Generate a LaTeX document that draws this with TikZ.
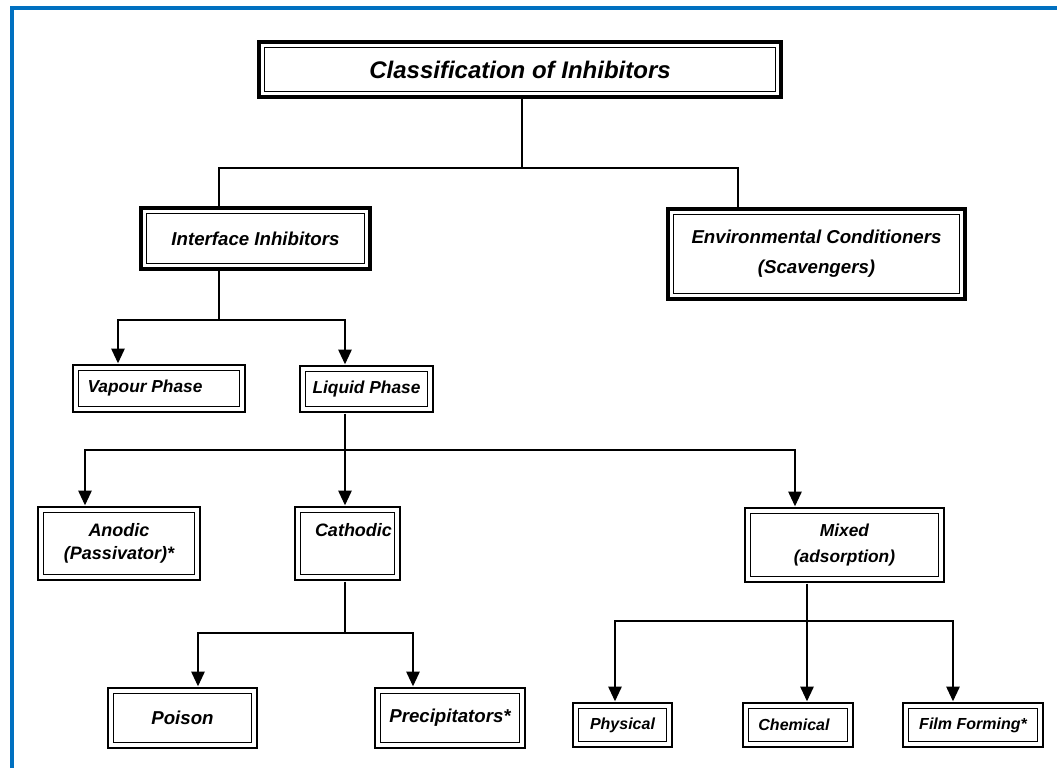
\documentclass[tikz,border=0pt]{standalone}
\usepackage{fontspec}
\setmainfont{Liberation Sans}
\usetikzlibrary{arrows.meta}
\newcommand\ibx[8]{%
  \draw[line width=#2] (#3,#4) rectangle (#5,#6);
  \node[ibox,#7,minimum width={(#5-#3-11)*0.75pt},minimum height={(#6-#4-11)*0.75pt}] (#1) at ({(#3+#5)/2},{(#4+#6)/2}) {#8};}
\begin{document}
\begin{tikzpicture}[x=0.75pt,y=-0.75pt,
  ibox/.style={draw,line width=1pt,inner sep=1pt,outer sep=5.4pt,align=center,
    font=\bfseries\itshape\fontsize{13.5}{17}\selectfont},
  conn/.style={line width=1.2pt},
  arr/.style={conn,-{Triangle[length=11pt,width=10pt]}},
  frame/.style={line width=3pt,draw={rgb,255:red,0;green,112;blue,192}}]
\useasboundingbox (0,0) rectangle (1057,768);
\fill[white] (0,0) rectangle (1057,768);
\draw[frame] (11.5,768) -- (11.5,8) -- (1057,8);
% boxes
\ibx{title}{3pt}{259}{42}{781}{97}{font=\bfseries\itshape\fontsize{18}{21}\selectfont}{Classification of Inhibitors}
\ibx{iface}{3pt}{141}{208}{370}{269}{font=\bfseries\itshape\fontsize{14}{17}\selectfont}{Interface Inhibitors}
\ibx{env}{3pt}{668}{209}{965}{299}{font=\bfseries\itshape\fontsize{14}{22.5}\selectfont}{Environmental Conditioners\\(Scavengers)}
\ibx{vap}{2.2pt}{73}{365}{245}{412}{font=\bfseries\itshape\fontsize{13}{16}\selectfont}{Vapour Phase\hspace*{21pt}}
\ibx{liq}{2.2pt}{300}{366}{433}{412}{font=\bfseries\itshape\fontsize{13}{16}\selectfont}{Liquid Phase}
\ibx{ano}{2.2pt}{38}{507}{200}{580}{font=\bfseries\itshape\fontsize{13.5}{17}\selectfont}{Anodic\\(Passivator)*}
\ibx{cat}{2.2pt}{295}{507}{400}{580}{font=\bfseries\itshape\fontsize{13.5}{17}\selectfont}{\hspace*{9pt}Cathodic\\\phantom{(}}
\ibx{mix}{2.2pt}{745}{508}{944}{582}{font=\bfseries\itshape\fontsize{13}{19.5}\selectfont}{Mixed\\(adsorption)}
\ibx{poi}{2.2pt}{108}{688}{257}{748}{font=\bfseries\itshape\fontsize{14}{17}\selectfont}{Poison}
\ibx{pre}{2.2pt}{375}{688}{525}{748}{font=\bfseries\itshape\fontsize{14}{17}\selectfont}{Precipitators*}
\ibx{phy}{2.2pt}{573}{703}{672}{747}{font=\bfseries\itshape\fontsize{12}{15}\selectfont}{Physical}
\ibx{che}{2.2pt}{743}{703}{853}{747}{font=\bfseries\itshape\fontsize{12}{15}\selectfont}{Chemical\hspace*{6pt}}
\ibx{fil}{2.2pt}{903}{703}{1043}{747}{font=\bfseries\itshape\fontsize{12}{15}\selectfont}{Film Forming*}
% junctions
\coordinate (b1c) at (522,168); \coordinate (b1l) at (219,168); \coordinate (b1r) at (738,168);
\coordinate (b2c) at (219,320); \coordinate (b2l) at (118,320); \coordinate (b2r) at (345,320);
\coordinate (b3c) at (345,450); \coordinate (b3l) at (85,450);  \coordinate (b3r) at (795,450);
\coordinate (b4c) at (345,633); \coordinate (b4l) at (198,633); \coordinate (b4r) at (413,633);
\coordinate (b5c) at (807,621); \coordinate (b5l) at (615,621); \coordinate (b5r) at (953,621);
% connectors
\draw[conn] (title.south -| b1c) -- (b1c);
\draw[conn] (iface.north -| b1l) -- (b1l) -- (b1r) -- (env.north -| b1r);
\draw[conn] (iface.south -| b2c) -- (b2c);
\draw[arr] (b2c) -| (vap.north -| b2l);
\draw[arr] (b2c) -| (liq.north -| b2r);
\draw[conn] (liq.south -| b3c) -- (b3c);
\draw[arr] (b3c) -| (ano.north -| b3l);
\draw[arr] (b3c) -- (cat.north -| b3c);
\draw[arr] (b3c) -| (mix.north -| b3r);
\draw[conn] (cat.south -| b4c) -- (b4c);
\draw[arr] (b4c) -| (poi.north -| b4l);
\draw[arr] (b4c) -| (pre.north -| b4r);
\draw[conn] (mix.south -| b5c) -- (b5c);
\draw[arr] (b5c) -| (phy.north -| b5l);
\draw[arr] (b5c) -- (che.north -| b5c);
\draw[arr] (b5c) -| (fil.north -| b5r);
\end{tikzpicture}
\end{document}
